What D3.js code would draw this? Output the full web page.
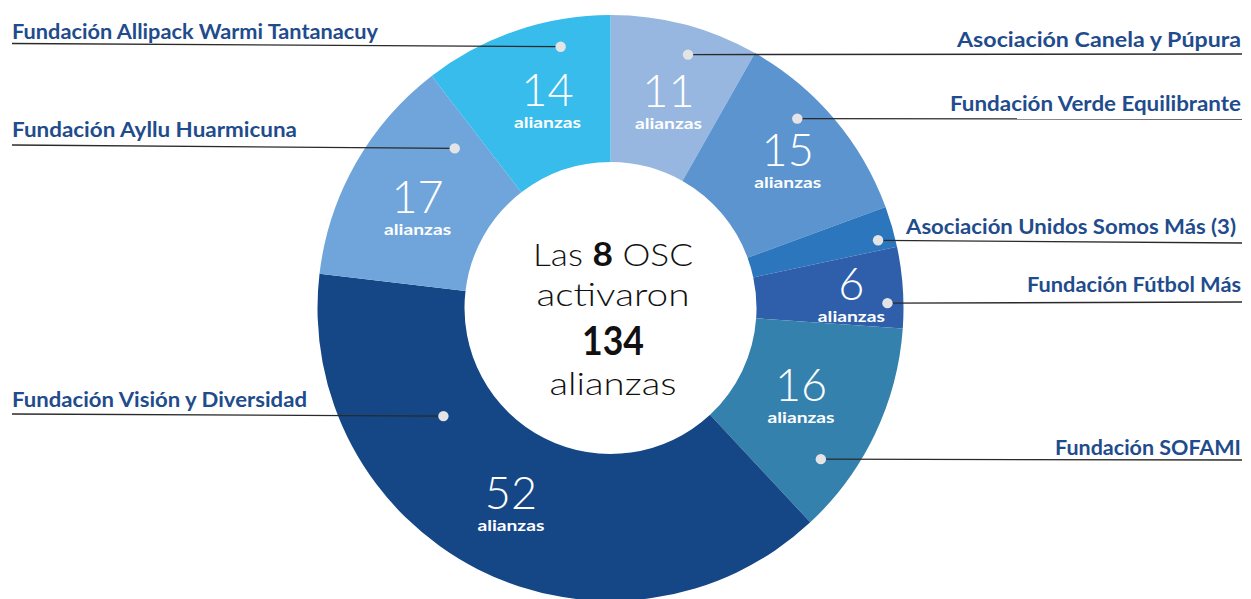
<!DOCTYPE html>
<html>
<head>
<meta charset="utf-8">
<script src="https://cdn.jsdelivr.net/npm/d3@7"></script>
<style>
  html, body { margin: 0; padding: 0; background: #fff; }
  svg { display: block; }
</style>
</head>
<body>
<svg id="chart" width="1251" height="599"></svg>
<script>
// ---- data ----
const categories = [
  "Asociación Canela y Púpura",
  "Fundación Verde Equilibrante",
  "Asociación Unidos Somos Más (3)",
  "Fundación Fútbol Más",
  "Fundación SOFAMI",
  "Fundación Visión y Diversidad",
  "Fundación Ayllu Huarmicuna",
  "Fundación Allipack Warmi Tantanacuy"
];
const values = [11, 15, 3, 6, 16, 52, 17, 14];
const showValue = [true, true, false, true, true, true, true, true];
const unitLabel = "alianzas";
const centerLines = [["Las ", "8", " OSC"], ["activaron"], ["134"], ["alianzas"]];

// ---- styling / layout (not data) ----
const colors = ["#97b7e0", "#5b94cf", "#2c76bd", "#2f5fab", "#3581ad", "#154686", "#6fa5db", "#37bcec"];
const W = 1251, H = 599;
const cx = 610.5, cy = 308, R = 293, r0 = 146;
// value label anchor (angle deg clockwise from top, radius) -> digit baseline centre
const numPos = [[16.1, 209], [51.3, 227], null, [88.1, 241], [116, 212], [206.4, 224], [296.2, 215], [342.7, 212]];
// leader dot positions (angle deg, radius)
const dotPos = [[17.0, 265], [44.6, 266], [75.8, 276], [89.0, 277], [125.7, 259], [237.1, 199], [315.7, 223], [349.2, 266]];
// label side, baseline y, line y at outer end, text width
const labelSide = ["right", "right", "right", "right", "right", "left", "left", "left"];
const labelBase = [47, 111, 234, 292, 455, 407, 137, 38.5];
const lineEndY = [54, 119, 243, 302, 460, 414, 145, 43.5];
const labelWidth = [284, 291, 330, 214, 186, 295, 285, 366];
const labelRightX = [1241, 1241, 1236, 1241, 1241];

const svg = d3.select("#chart");
const g = svg.append("g");

const pie = d3.pie().sort(null).value(d => d).startAngle(0).endAngle(2 * Math.PI);
const arcs = pie(values);
const arc = d3.arc().innerRadius(r0).outerRadius(R);

g.selectAll("path.slice").data(arcs).join("path")
  .attr("class", "slice")
  .attr("transform", `translate(${cx},${cy})`)
  .attr("d", arc)
  .attr("fill", (d, i) => colors[i]);

const polar = (a, rr) => {
  const t = a * Math.PI / 180;
  return [cx + rr * Math.sin(t), cy - rr * Math.cos(t)];
};

// value labels
const numFont = "Lato, 'Open Sans', Roboto, sans-serif";
arcs.forEach((d, i) => {
  if (!showValue[i] || !numPos[i]) return;
  const [x, y] = polar(numPos[i][0], numPos[i][1]);
  g.append("text")
    .attr("x", x).attr("y", y)
    .attr("text-anchor", "middle")
    .attr("fill", "#fff")
    .attr("font-family", numFont)
    .attr("font-weight", 300)
    .attr("font-size", 45)
    .text(d.data);
  g.append("text")
    .attr("x", x).attr("y", y + 22)
    .attr("text-anchor", "middle")
    .attr("fill", "#fff")
    .attr("font-family", numFont)
    .attr("font-weight", 700)
    .attr("font-size", 16)
    .attr("textLength", 67)
    .attr("lengthAdjust", "spacingAndGlyphs")
    .text(unitLabel);
});

// leader lines + dots
arcs.forEach((d, i) => {
  const [dx, dy] = polar(dotPos[i][0], dotPos[i][1]);
  const endX = labelSide[i] === "right" ? 1242 : 12;
  g.append("line")
    .attr("x1", dx).attr("y1", dy)
    .attr("x2", endX).attr("y2", lineEndY[i])
    .attr("stroke", "#2a2a2a")
    .attr("stroke-width", 1.3);
  g.append("circle")
    .attr("cx", dx).attr("cy", dy).attr("r", 5.2)
    .attr("fill", "#e4e4e6");
});

// category labels
const labFont = "Lato, 'Open Sans', 'DejaVu Sans', sans-serif";
categories.forEach((c, i) => {
  const right = labelSide[i] === "right";
  g.append("text")
    .attr("x", right ? (labelRightX[i] || 1241) : 12)
    .attr("y", labelBase[i])
    .attr("text-anchor", right ? "end" : "start")
    .attr("fill", "#1f4c8c")
    .attr("font-family", labFont)
    .attr("font-weight", 700)
    .attr("font-size", 21.5)
    .attr("textLength", labelWidth[i])
    .attr("lengthAdjust", "spacingAndGlyphs")
    .text(c);
});

// centre text
const cBase = [266, 306, 355, 395];
const cWidth = [160, 153, 62, 127];
const cSize = [32, 32, 40, 32];
centerLines.forEach((parts, li) => {
  const t = g.append("text")
    .attr("x", 613).attr("y", cBase[li])
    .attr("text-anchor", "middle")
    .attr("fill", "#111")
    .attr("font-family", numFont)
    .attr("font-size", cSize[li])
    .attr("textLength", cWidth[li])
    .attr("lengthAdjust", "spacingAndGlyphs");
  parts.forEach(p => {
    const bold = /^\d+$/.test(p);
    t.append("tspan")
      .attr("font-weight", bold ? 700 : 300)
      .text(p);
  });
});
</script>
</body>
</html>
